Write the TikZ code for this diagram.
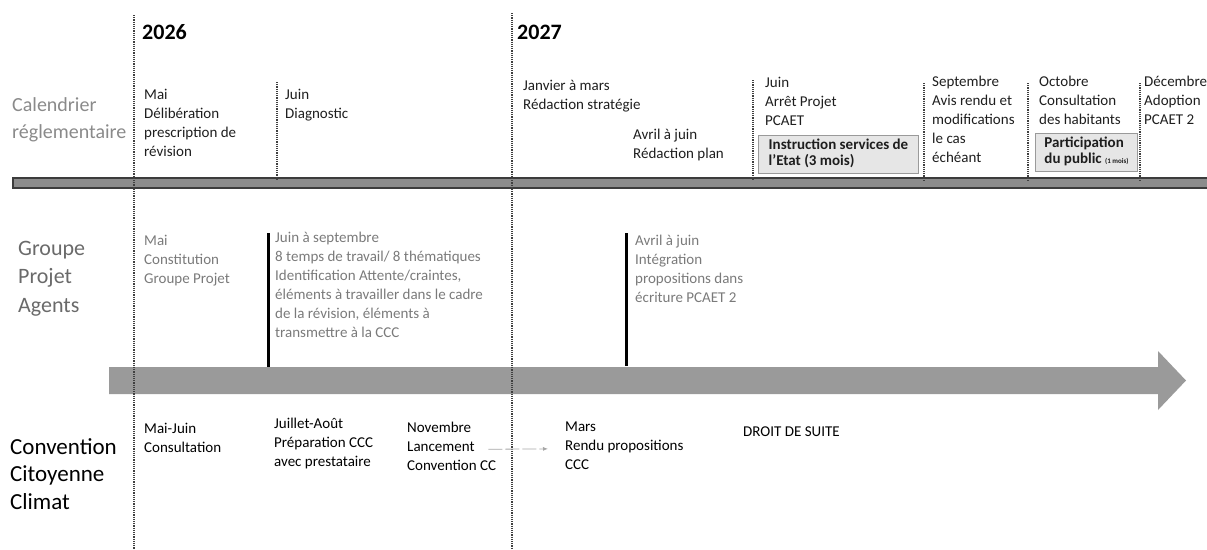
\documentclass[tikz,border=0pt]{standalone}
\usepackage{fontspec}
\setmainfont{Carlito}
\usetikzlibrary{arrows.meta}
\definecolor{topink}{HTML}{1E1E1E}
\definecolor{midink}{HTML}{7A7A7A}
\definecolor{lblgray}{HTML}{8A8A8A}
\definecolor{grplbl}{HTML}{6A6A6A}
\definecolor{arrowgray}{HTML}{9A9A9A}
\definecolor{barfill}{HTML}{8C8C8C}
\definecolor{bardraw}{HTML}{3C3C3C}
\definecolor{boxfill}{HTML}{E6E6E6}
\definecolor{boxdraw}{HTML}{9A9A9A}
\tikzset{
  txt/.style={anchor=north west, inner sep=0pt, align=left, text=topink,
    font=\fontsize{15}{19}\selectfont, execute at begin node=\strut},
  midtxt/.style={txt, text=midink},
  bottxt/.style={txt, text=black},
  yearlbl/.style={anchor=base west, inner sep=0pt, font=\bfseries\fontsize{22}{26}\selectfont, text=black},
  vdot/.style={draw=black!75, line width=1.3pt, dash pattern=on 1.1pt off 1.1pt},
  marker/.style={draw=black, line width=3pt},
  infobox/.style={anchor=north west, draw=boxdraw, fill=boxfill, line width=1pt,
    inner xsep=6pt, inner ysep=3pt, align=left, text=topink, minimum width=160pt,
    minimum height=38pt, font=\bfseries\fontsize{15}{16}\selectfont, execute at begin node=\strut},
}
\begin{document}
\begin{tikzpicture}[x=1pt,y=-1pt]
\useasboundingbox (0,0) rectangle (1207,549);
% row labels
\node[anchor=north west, inner sep=0pt, align=left, text=lblgray,
  font=\fontsize{20}{27}\selectfont, execute at begin node=\strut] (cal) at (12,97) {Calendrier\\réglementaire};
\node[anchor=north west, inner sep=0pt, align=left, text=grplbl,
  font=\fontsize{22}{28.5}\selectfont, execute at begin node=\strut] (grp) at (18,241) {Groupe\\Projet\\Agents};
\node[anchor=north west, inner sep=0pt, align=left, text=black,
  font=\fontsize{23}{27.5}\selectfont, execute at begin node=\strut] (ccc) at (10,438) {Convention\\Citoyenne\\Climat};
% years
\node[yearlbl] (y26) at (142,39) {2026};
\node[yearlbl] (y27) at (517,39) {2027};
% calendar bar
\draw[fill=barfill, draw=bardraw, line width=1.5pt] (13,178) rectangle (1212,188);
% big arrow
\fill[arrowgray] (109,367) -- (1158,367) -- (1158,351) -- (1186,380.5) -- (1158,410) -- (1158,394) -- (109,394) -- cycle;
% boxes
\node[infobox] (instr) at (758,135) {Instruction services de\\l'Etat (3 mois)};
\node[infobox, minimum width=102pt, inner xsep=5pt] (partic) at (1035,133) {Participation\\du public {\fontsize{7}{8}\selectfont(1 mois)}};
% dotted verticals
\draw[vdot] (134,15) -- (134,549);
\draw[vdot] (512,13) -- (512,549);
\draw[vdot] (277,82) -- (277,180);
\draw[vdot] (753,80) -- (753,180);
\draw[vdot] (924,83) -- (924,180);
\draw[vdot] (1028,83) -- (1028,180);
\draw[vdot] (1140,83) -- (1140,180);
% solid markers
\draw[marker] (268,233) -- (268,367);
\draw[marker] (626,233) -- (626,366);
% top row texts
\node[txt] (mai1) at (144,89) {Mai\\Délibération\\prescription de\\révision};
\node[txt] (juin1) at (285,89) {Juin\\Diagnostic};
\node[txt] (janv) at (523,80) {Janvier à mars\\Rédaction stratégie};
\node[txt] (avril1) at (633,129) {Avril à juin\\Rédaction plan};
\node[txt] (juin2) at (765,77) {Juin\\Arrêt Projet\\PCAET};
\node[txt] (sept) at (932,76) {Septembre\\Avis rendu et\\modifications\\le cas\\échéant};
\node[txt] (oct) at (1039,76) {Octobre\\Consultation\\des habitants};
\node[txt] (dec) at (1144,76) {Décembre\\Adoption\\PCAET 2};
% middle row texts
\node[midtxt] (mai2) at (144,235) {Mai\\Constitution\\Groupe Projet};
\node[midtxt] (juinsept) at (275,232) {Juin à septembre\\8 temps de travail/ 8 thématiques\\Identification Attente/craintes,\\éléments à travailler dans le cadre\\de la révision, éléments à\\transmettre à la CCC};
\node[midtxt] (avril2) at (635,235) {Avril à juin\\Intégration\\propositions dans\\écriture PCAET 2};
% bottom row texts
\node[bottxt] (maijuin) at (144,423) {Mai-Juin\\Consultation};
\node[bottxt] (juil) at (274,418) {Juillet-Août\\Préparation CCC\\avec prestataire};
\node[bottxt] (nov) at (407,422) {Novembre\\Lancement\\Convention CC};
\node[bottxt] (mars) at (565,422) {Mars\\Rendu propositions\\CCC};
\node[bottxt] (droit) at (743,423) {DROIT DE SUITE};
% connector
\draw[draw=black!35, line width=0.8pt, dash pattern=on 14pt off 3pt,
  -{Latex[length=5pt,width=4pt]}] ([xshift=-8pt]nov.east) -- ([xshift=-17pt]mars.west);
\end{tikzpicture}
\end{document}
